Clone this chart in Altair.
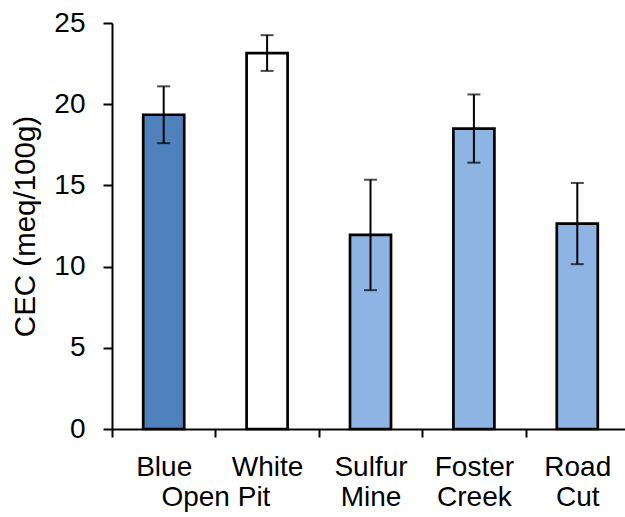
import altair as alt
import pandas as pd

sites = ["Blue", "White", "Sulfur Mine", "Foster Creek", "Road Cut"]
cec = [19.35, 23.15, 11.95, 18.5, 12.65]
err = [1.75, 1.1, 3.4, 2.1, 2.5]
fills = ["#4F81BD", "#FFFFFF", "#8DB4E2", "#8DB4E2", "#8DB4E2"]
y_ticks = [0, 5, 10, 15, 20, 25]

df = pd.DataFrame({"site": sites, "cec": cec, "err": err})
df["lo"] = df["cec"] - df["err"]
df["hi"] = df["cec"] + df["err"]

FONT = "Liberation Sans"

x_enc = alt.X(
    "site:N",
    sort=sites,
    scale=alt.Scale(paddingInner=0, paddingOuter=0, range=[0, 517]),
    axis=alt.Axis(
        title="Open Pit",
        titleX=103.4,
        titleY=76,
        titleAlign="center",
        titleBaseline="alphabetic",
        titleFont=FONT,
        titleFontSize=28,
        titleFontWeight="normal",
        titleColor="black",
        labelExpr="split(datum.label, ' ')",
        labelAngle=0,
        labelFont=FONT,
        labelFontSize=28,
        labelColor="black",
        labelBaseline="alphabetic",
        labelLineHeight=30,
        labelPadding=38,
        tickBand="extent",
        tickSize=8,
        tickWidth=2,
        tickColor="black",
        domainColor="black",
        domainWidth=2,
    ),
)

y_scale = alt.Scale(domain=[0, 25], nice=False)

bars = alt.Chart(df).mark_bar(size=41, stroke="black", strokeWidth=2.7).encode(
    x=x_enc,
    y=alt.Y(
        "cec:Q",
        scale=y_scale,
        axis=alt.Axis(
            title="CEC (meq/100g)",
            values=y_ticks,
            titleFont=FONT,
            titleFontSize=29.5,
            titleFontWeight="normal",
            titleColor="black",
            titleX=-87,
            titleY=203,
            titleAngle=270,
            titleAlign="center",
            titleBaseline="middle",
            labelFont=FONT,
            labelFontSize=28,
            labelColor="black",
            labelPadding=18,
            tickSize=9,
            tickWidth=2,
            tickColor="black",
            domainColor="black",
            domainWidth=2,
            grid=False,
        ),
    ),
    color=alt.Color("site:N", scale=alt.Scale(domain=sites, range=fills), legend=None),
)

rules = alt.Chart(df).mark_rule(color="black", strokeWidth=2).encode(
    x=alt.X("site:N", sort=sites),
    y=alt.Y("lo:Q", scale=y_scale),
    y2="hi:Q",
)

cap_hi = alt.Chart(df).mark_tick(color="black", size=13, thickness=2).encode(
    x=alt.X("site:N", sort=sites),
    y=alt.Y("hi:Q", scale=y_scale),
)
cap_lo = alt.Chart(df).mark_tick(color="black", size=13, thickness=2).encode(
    x=alt.X("site:N", sort=sites),
    y=alt.Y("lo:Q", scale=y_scale),
)

chart = (
    alt.layer(bars, rules, cap_hi, cap_lo)
    .properties(
        width=513,
        height=406,
        autosize=alt.AutoSizeParams(type="none"),
        padding={"left": 112, "top": 23, "right": 0, "bottom": 88},
        background="white",
    )
    .configure_view(stroke=None)
)

chart.save("out.html", embed_options={"renderer": "svg", "actions": False})
